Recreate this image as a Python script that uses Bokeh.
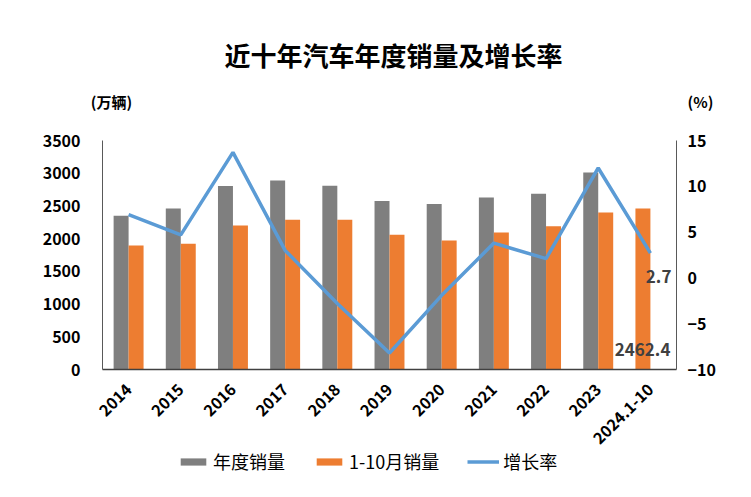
from bokeh.plotting import figure
from bokeh.layouts import column
from bokeh.models import (FactorRange, Range1d, LinearAxis, FixedTicker, Legend,
                          LegendItem, Label, ColumnDataSource)
from bokeh.transform import dodge
from bokeh.embed import file_html
from bokeh.resources import INLINE

categories = ["2014", "2015", "2016", "2017", "2018", "2019", "2020",
              "2021", "2022", "2023", "2024.1-10"]
annual_years = categories[:10]
annual_sales = [2349.2, 2459.8, 2802.8, 2887.9, 2808.1, 2576.9, 2531.1,
                2627.5, 2686.4, 3009.4]
jan_oct_sales = [1896, 1922, 2202, 2288, 2288, 2060, 1971, 2095, 2191, 2400, 2462.4]
growth = [6.9, 4.7, 13.7, 3.0, -2.8, -8.2, -1.9, 3.8, 2.1, 12.0, 2.7]
left_ticks = [0, 500, 1000, 1500, 2000, 2500, 3000, 3500]
right_ticks = [-10, -5, 0, 5, 10, 15]
series_names = ["年度销量", "1-10月销量", "增长率"]

FONT = "Noto Sans CJK SC"
GRAY = "#7F7F7F"
ORANGE = "#ED7D31"
BLUE = "#5B9BD5"
BW = 0.287
W = 743
HEAD_H = 128
MAIN_TOP, MAIN_BOTTOM = 12, 82
FOOT_H = 44


def blank(fig):
    fig.axis.visible = False
    fig.grid.visible = False
    fig.outline_line_color = None
    fig.frame_align = False


# ---- header (title + units), page-pixel coordinates ----
head = figure(width=W, height=HEAD_H, x_range=Range1d(0, W), y_range=Range1d(HEAD_H, 0),
              output_backend="svg", toolbar_location=None, min_border=0)
blank(head)
head.add_layout(Label(x=393, y=54, text="近十年汽车年度销量及增长率", text_align="center",
                      text_baseline="middle", text_font=FONT, text_font_style="bold",
                      text_font_size="26px", text_color="#000000"))
head.add_layout(Label(x=111, y=101, text="(万辆)", text_align="center",
                      text_baseline="middle", text_font=FONT, text_font_style="bold",
                      text_font_size="15px", text_color="#000000"))
head.add_layout(Label(x=700, y=101, text="(%)", text_align="center",
                      text_baseline="middle", text_font=FONT, text_font_style="bold",
                      text_font_size="15px", text_color="#000000"))

# ---- main chart ----
p = figure(frame_width=574, frame_height=229, x_range=FactorRange(factors=categories),
           y_range=Range1d(0, 3500), output_backend="svg", toolbar_location=None,
           min_border_left=102, min_border_right=67, min_border_top=MAIN_TOP,
           min_border_bottom=MAIN_BOTTOM)
p.extra_y_ranges = {"pct": Range1d(-10, 15)}
p.outline_line_color = None
p.xgrid.grid_line_color = None
p.ygrid.grid_line_color = None

src_a = ColumnDataSource(dict(x=annual_years, y=annual_sales))
src_o = ColumnDataSource(dict(x=categories[:10], y=jan_oct_sales[:10]))
src_o2 = ColumnDataSource(dict(x=categories[10:], y=jan_oct_sales[10:]))
src_g = ColumnDataSource(dict(x=categories, y=growth))

p.vbar(x=dodge("x", -BW / 2, range=p.x_range), top="y", width=BW, source=src_a,
       fill_color=GRAY, line_color=None)
p.vbar(x=dodge("x", BW / 2, range=p.x_range), top="y", width=BW, source=src_o,
       fill_color=ORANGE, line_color=None)
p.vbar(x=dodge("x", -BW / 2, range=p.x_range), top="y", width=BW, source=src_o2,
       fill_color=ORANGE, line_color=None)
p.line(x="x", y="y", source=src_g, y_range_name="pct", line_color=BLUE, line_width=3.5)

xa = p.xaxis[0]
xa.axis_line_color = "#404040"
xa.axis_line_width = 1.5
xa.major_tick_line_color = None
xa.minor_tick_line_color = None
xa.major_label_orientation = 0.785
xa.major_label_text_font = FONT
xa.major_label_text_font_style = "bold"
xa.major_label_text_font_size = "16px"
xa.major_label_text_color = "#000000"
xa.major_label_standoff = 11

ya = p.yaxis[0]
ya.ticker = FixedTicker(ticks=left_ticks)
ya.axis_line_color = "#595959"
ya.major_tick_line_color = None
ya.minor_tick_line_color = None
ya.major_label_text_font = FONT
ya.major_label_text_font_style = "bold"
ya.major_label_text_font_size = "16px"
ya.major_label_text_color = "#000000"
ya.major_label_standoff = 16

ra = LinearAxis(y_range_name="pct", ticker=FixedTicker(ticks=right_ticks))
ra.axis_line_color = "#595959"
ra.major_tick_line_color = None
ra.minor_tick_line_color = None
ra.major_label_text_font = FONT
ra.major_label_text_font_style = "bold"
ra.major_label_text_font_size = "16px"
ra.major_label_text_color = "#000000"
ra.major_label_standoff = 5
p.add_layout(ra, "right")

p.add_layout(Label(x=10.5, y=growth[-1], y_range_name="pct", text=str(growth[-1]),
                   x_offset=21, y_offset=-23, text_align="right", text_baseline="middle",
                   text_font=FONT, text_font_style="bold", text_font_size="17px",
                   text_color="#404040"))
p.add_layout(Label(x=10.5, y=0, text=str(jan_oct_sales[-1]),
                   x_offset=20, y_offset=20, text_align="right", text_baseline="middle",
                   text_font=FONT, text_font_style="bold", text_font_size="17px",
                   text_color="#404040"))

# ---- footer with legend; key renderers sit far outside the footer's view ----
foot = figure(width=W, height=FOOT_H, x_range=Range1d(0, W), y_range=Range1d(5000, 5040),
              output_backend="svg", toolbar_location=None, min_border=0)
blank(foot)
idx10 = list(range(len(annual_sales)))
idx11 = list(range(len(growth)))
k_a = foot.vbar(x=idx10, top=annual_sales, bottom=annual_sales, width=1,
                fill_color=GRAY, line_color=None)
k_o = foot.vbar(x=idx11, top=jan_oct_sales, bottom=jan_oct_sales, width=1,
                fill_color=ORANGE, line_color=None)
k_g = foot.line(x=idx11, y=growth, line_color=BLUE, line_width=3.5)
legend = Legend(items=[LegendItem(label=series_names[0], renderers=[k_a]),
                       LegendItem(label=series_names[1], renderers=[k_o]),
                       LegendItem(label=series_names[2], renderers=[k_g])],
                orientation="horizontal", location=(177, 22),
                label_text_font=FONT, label_text_font_size="18px",
                label_text_line_height=1.0, label_height=18,
                label_text_color="#000000", glyph_width=32, glyph_height=9,
                label_standoff=4, spacing=28, border_line_color=None,
                background_fill_alpha=0, padding=0, margin=0)
foot.add_layout(legend, "center")

open("out.html", "w").write(file_html(column(head, p, foot), INLINE))
